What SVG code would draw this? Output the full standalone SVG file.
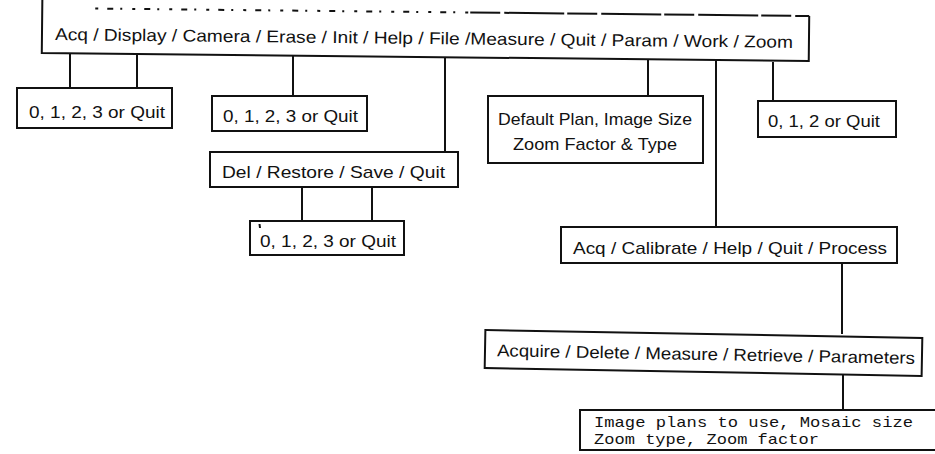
<svg xmlns="http://www.w3.org/2000/svg" width="935" height="454" viewBox="0 0 935 454">
  <style>
    .box { fill: #ffffff; stroke: #111111; stroke-width: 2; }
    .wire { fill: none; stroke: #111111; stroke-width: 2; }
    .lbl { font-family: "Liberation Sans", Arial, Helvetica, sans-serif; font-size: 17px; fill: #111111; }
    .mono { font-family: "Liberation Mono", "Courier New", monospace; font-size: 15px; fill: #111111; }
  </style>
  <rect width="935" height="454" fill="#ffffff"/>

  <!-- connectors -->
  <g id="connectors" class="wire">
    <line x1="70" y1="53" x2="70" y2="88"/>
    <line x1="137" y1="54" x2="137" y2="88"/>
    <line x1="293" y1="56" x2="293" y2="96"/>
    <line x1="445" y1="57" x2="445" y2="152"/>
    <line x1="302" y1="187" x2="302" y2="221"/>
    <line x1="372" y1="187" x2="372" y2="221"/>
    <line x1="648" y1="60" x2="648" y2="96"/>
    <line x1="716" y1="61" x2="716" y2="227"/>
    <line x1="773" y1="62" x2="773" y2="101"/>
    <line x1="842" y1="263" x2="842" y2="334"/>
    <line x1="843" y1="375" x2="843" y2="411"/>
  </g>

  <!-- main menu: worn top border, solid sides and bottom -->
  <g id="main-menu" transform="rotate(0.6 425 35)">
    <rect x="42" y="12" width="767" height="45" fill="#ffffff"/>
    <path class="wire" d="M42 0 V57 H809 V12"/>
    <line class="wire" x1="95" y1="12" x2="470" y2="12" stroke-width="1.6" stroke-dasharray="3 9 6 7 2 10"/>
    <line class="wire" x1="470" y1="12" x2="809" y2="12" stroke-width="1.8" stroke-dasharray="30 4 60 3"/>
    <text class="lbl" x="55" y="44" textLength="738" lengthAdjust="spacingAndGlyphs">Acq / Display / Camera / Erase / Init / Help / File /Measure / Quit / Param / Work / Zoom</text>
  </g>

  <g id="acq-choice">
    <rect class="box" x="17" y="88" width="155" height="40"/>
    <text class="lbl" x="29" y="118" textLength="136" lengthAdjust="spacingAndGlyphs">0, 1, 2, 3 or Quit</text>
  </g>

  <g id="erase-choice">
    <rect class="box" x="212" y="96" width="155" height="35"/>
    <text class="lbl" x="223" y="122" textLength="135" lengthAdjust="spacingAndGlyphs">0, 1, 2, 3 or Quit</text>
  </g>

  <g id="file-menu">
    <rect class="box" x="210" y="152" width="248" height="35"/>
    <text class="lbl" x="222" y="178" textLength="223" lengthAdjust="spacingAndGlyphs">Del / Restore / Save / Quit</text>
  </g>

  <g id="file-choice">
    <rect class="box" x="250" y="221" width="154" height="34"/>
    <line class="wire" x1="259.5" y1="224" x2="260" y2="228" stroke-width="1.2"/>
    <text class="lbl" x="260" y="247" textLength="136" lengthAdjust="spacingAndGlyphs">0, 1, 2, 3 or Quit</text>
  </g>

  <g id="param-box">
    <rect class="box" x="488" y="96" width="215" height="67"/>
    <text class="lbl" x="498" y="125" textLength="194" lengthAdjust="spacingAndGlyphs">Default Plan, Image Size</text>
    <text class="lbl" x="513" y="150" textLength="164" lengthAdjust="spacingAndGlyphs">Zoom Factor &amp; Type</text>
  </g>

  <g id="zoom-choice">
    <rect class="box" x="758" y="101" width="138" height="36"/>
    <text class="lbl" x="768" y="127" textLength="112" lengthAdjust="spacingAndGlyphs">0, 1, 2 or Quit</text>
  </g>

  <g id="work-menu">
    <rect class="box" x="561" y="227" width="336" height="36"/>
    <text class="lbl" x="573" y="254" textLength="314" lengthAdjust="spacingAndGlyphs">Acq / Calibrate / Help / Quit / Process</text>
  </g>

  <g id="process-menu" transform="rotate(1.05 703 353)">
    <rect class="box" x="485" y="334" width="437" height="38"/>
    <text class="lbl" x="497" y="360" textLength="418" lengthAdjust="spacingAndGlyphs">Acquire / Delete / Measure / Retrieve / Parameters</text>
  </g>

  <g id="parameters-box">
    <rect class="box" x="580" y="410" width="370" height="40"/>
    <text class="mono" x="594" y="427" textLength="319" lengthAdjust="spacingAndGlyphs">Image plans to use, Mosaic size</text>
    <text class="mono" x="594" y="444" textLength="225" lengthAdjust="spacingAndGlyphs">Zoom type, Zoom factor</text>
  </g>
</svg>
